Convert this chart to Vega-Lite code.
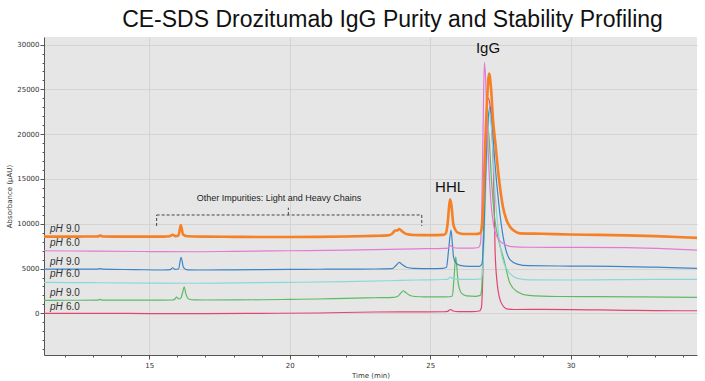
{
"$schema": "https://vega.github.io/schema/vega-lite/v6.json",
"width": 653, "height": 318,
"autosize": {"type": "none"},
"padding": {"left": 44, "top": 37, "right": 8, "bottom": 26},
"background": "white",
"view": {"fill": "#e6e6e6", "stroke": null},
"title": {"text": "CE-SDS Drozitumab IgG Purity and Stability Profiling", "fontSize": 23, "font": "Liberation Sans", "fontWeight": "normal", "color": "#111111", "anchor": "middle", "dx": 22, "dy": 21, "offset": 8, "baseline": "alphabetic"},
"config": {
  "axis": {"labelFont": "DejaVu Sans", "labelFontSize": 7, "labelColor": "#333333", "titleFont": "DejaVu Sans", "titleFontSize": 7, "titleFontWeight": "normal", "titleColor": "#333333", "domainColor": "#555555", "tickColor": "#555555", "gridColor": "#d4d4d4", "labelOverlap": false, "labelFlush": false}
},
"datasets": {
"traces": [
{"s":"r","t":11.25,"v":0},{"s":"r","t":13,"v":0},{"s":"r","t":15,"v":-20},{"s":"r","t":17,"v":-30},{"s":"r","t":19,"v":0},{"s":"r","t":21,"v":40},{"s":"r","t":23,"v":150},{"s":"r","t":24.5,"v":170},{"s":"r","t":25.5,"v":180},{"s":"r","t":25.62,"v":220},{"s":"r","t":25.72,"v":430},{"s":"r","t":25.82,"v":260},{"s":"r","t":26.0,"v":200},{"s":"r","t":26.5,"v":200},{"s":"r","t":26.75,"v":260},{"s":"r","t":26.82,"v":600},{"s":"r","t":26.88,"v":5000},{"s":"r","t":26.93,"v":14000},{"s":"r","t":27.0,"v":21500},{"s":"r","t":27.07,"v":24000},{"s":"r","t":27.14,"v":23000},{"s":"r","t":27.2,"v":20000},{"s":"r","t":27.25,"v":16500},{"s":"r","t":27.31,"v":7065},{"s":"r","t":27.38,"v":3500},{"s":"r","t":27.46,"v":1850},{"s":"r","t":27.58,"v":900},{"s":"r","t":27.72,"v":500},{"s":"r","t":28.0,"v":430},{"s":"r","t":29,"v":440},{"s":"r","t":30,"v":420},{"s":"r","t":31,"v":380},{"s":"r","t":32,"v":340},{"s":"r","t":33,"v":300},{"s":"r","t":34.5,"v":290},
{"s":"g","t":11.25,"v":1450},{"s":"g","t":12,"v":1460},{"s":"g","t":13.15,"v":1470},{"s":"g","t":13.25,"v":1550},{"s":"g","t":13.35,"v":1470},{"s":"g","t":14,"v":1470},{"s":"g","t":15,"v":1480},{"s":"g","t":15.8,"v":1490},{"s":"g","t":15.9,"v":1560},{"s":"g","t":15.97,"v":1800},{"s":"g","t":16.05,"v":1600},{"s":"g","t":16.12,"v":1700},{"s":"g","t":16.2,"v":2500},{"s":"g","t":16.24,"v":2970},{"s":"g","t":16.3,"v":2200},{"s":"g","t":16.4,"v":1600},{"s":"g","t":16.6,"v":1500},{"s":"g","t":17,"v":1490},{"s":"g","t":18,"v":1500},{"s":"g","t":19,"v":1520},{"s":"g","t":20,"v":1560},{"s":"g","t":21,"v":1600},{"s":"g","t":22,"v":1680},{"s":"g","t":23,"v":1740},{"s":"g","t":23.7,"v":1780},{"s":"g","t":23.85,"v":1900},{"s":"g","t":23.95,"v":2250},{"s":"g","t":24.04,"v":2520},{"s":"g","t":24.12,"v":2350},{"s":"g","t":24.25,"v":2050},{"s":"g","t":24.45,"v":1880},{"s":"g","t":24.8,"v":1830},{"s":"g","t":25.3,"v":1830},{"s":"g","t":25.7,"v":1850},{"s":"g","t":25.79,"v":1950},{"s":"g","t":25.85,"v":4000},{"s":"g","t":25.91,"v":6317},{"s":"g","t":25.96,"v":4700},{"s":"g","t":26.0,"v":3350},{"s":"g","t":26.12,"v":2230},{"s":"g","t":26.3,"v":1950},{"s":"g","t":26.6,"v":1900},{"s":"g","t":26.78,"v":2000},{"s":"g","t":26.83,"v":2600},{"s":"g","t":26.88,"v":7000},{"s":"g","t":26.95,"v":15000},{"s":"g","t":27.03,"v":20900},{"s":"g","t":27.1,"v":19500},{"s":"g","t":27.18,"v":15000},{"s":"g","t":27.3,"v":10500},{"s":"g","t":27.45,"v":8000},{"s":"g","t":27.64,"v":5800},{"s":"g","t":27.84,"v":3350},{"s":"g","t":28.1,"v":2400},{"s":"g","t":28.5,"v":2000},{"s":"g","t":29.5,"v":1880},{"s":"g","t":31,"v":1860},{"s":"g","t":32.5,"v":1830},{"s":"g","t":34.5,"v":1790},
{"s":"c","t":11.25,"v":3460},{"s":"c","t":13,"v":3420},{"s":"c","t":15,"v":3380},{"s":"c","t":16.5,"v":3360},{"s":"c","t":18,"v":3400},{"s":"c","t":20,"v":3460},{"s":"c","t":22,"v":3540},{"s":"c","t":23.5,"v":3640},{"s":"c","t":24.5,"v":3720},{"s":"c","t":25.5,"v":3780},{"s":"c","t":25.62,"v":3800},{"s":"c","t":25.72,"v":4050},{"s":"c","t":25.82,"v":3850},{"s":"c","t":26.0,"v":3800},{"s":"c","t":26.6,"v":3800},{"s":"c","t":26.8,"v":3850},{"s":"c","t":26.86,"v":4500},{"s":"c","t":26.93,"v":9000},{"s":"c","t":27.0,"v":16000},{"s":"c","t":27.07,"v":21000},{"s":"c","t":27.13,"v":22500},{"s":"c","t":27.2,"v":20000},{"s":"c","t":27.3,"v":14000},{"s":"c","t":27.45,"v":8500},{"s":"c","t":27.6,"v":5800},{"s":"c","t":27.84,"v":4465},{"s":"c","t":28.1,"v":3900},{"s":"c","t":28.5,"v":3740},{"s":"c","t":30,"v":3720},{"s":"c","t":31.5,"v":3760},{"s":"c","t":33,"v":3790},{"s":"c","t":34.5,"v":3790},
{"s":"b","t":11.25,"v":4945},{"s":"b","t":12.5,"v":4930},{"s":"b","t":13.15,"v":4930},{"s":"b","t":13.25,"v":4990},{"s":"b","t":13.35,"v":4930},{"s":"b","t":14.5,"v":4880},{"s":"b","t":15.5,"v":4840},{"s":"b","t":15.75,"v":4870},{"s":"b","t":15.83,"v":5090},{"s":"b","t":15.92,"v":4900},{"s":"b","t":16.04,"v":4950},{"s":"b","t":16.13,"v":6250},{"s":"b","t":16.22,"v":5100},{"s":"b","t":16.35,"v":4860},{"s":"b","t":17,"v":4840},{"s":"b","t":18,"v":4860},{"s":"b","t":19,"v":4880},{"s":"b","t":20,"v":4900},{"s":"b","t":21,"v":4920},{"s":"b","t":22,"v":4940},{"s":"b","t":23,"v":4950},{"s":"b","t":23.65,"v":4990},{"s":"b","t":23.8,"v":5400},{"s":"b","t":23.9,"v":5700},{"s":"b","t":24.0,"v":5450},{"s":"b","t":24.15,"v":5150},{"s":"b","t":24.4,"v":5020},{"s":"b","t":25,"v":5000},{"s":"b","t":25.45,"v":5030},{"s":"b","t":25.58,"v":5150},{"s":"b","t":25.66,"v":7200},{"s":"b","t":25.74,"v":9300},{"s":"b","t":25.79,"v":7800},{"s":"b","t":25.83,"v":6300},{"s":"b","t":25.92,"v":5600},{"s":"b","t":26.06,"v":5350},{"s":"b","t":26.4,"v":5250},{"s":"b","t":26.75,"v":5250},{"s":"b","t":26.84,"v":5500},{"s":"b","t":26.9,"v":8000},{"s":"b","t":26.97,"v":15000},{"s":"b","t":27.05,"v":21000},{"s":"b","t":27.13,"v":23058},{"s":"b","t":27.2,"v":21500},{"s":"b","t":27.3,"v":17000},{"s":"b","t":27.45,"v":12000},{"s":"b","t":27.6,"v":8500},{"s":"b","t":27.84,"v":6000},{"s":"b","t":28.1,"v":5500},{"s":"b","t":28.5,"v":5320},{"s":"b","t":30,"v":5280},{"s":"b","t":31.5,"v":5250},{"s":"b","t":33,"v":5150},{"s":"b","t":34.5,"v":5020},
{"s":"m","t":11.25,"v":6990},{"s":"m","t":13,"v":6940},{"s":"m","t":15,"v":6900},{"s":"m","t":16.5,"v":6875},{"s":"m","t":18,"v":6920},{"s":"m","t":20,"v":6990},{"s":"m","t":22,"v":7060},{"s":"m","t":23.5,"v":7140},{"s":"m","t":24.5,"v":7200},{"s":"m","t":25.5,"v":7250},{"s":"m","t":25.63,"v":7280},{"s":"m","t":25.72,"v":7550},{"s":"m","t":25.82,"v":7350},{"s":"m","t":26.0,"v":7270},{"s":"m","t":26.5,"v":7280},{"s":"m","t":26.72,"v":7350},{"s":"m","t":26.79,"v":7800},{"s":"m","t":26.84,"v":12000},{"s":"m","t":26.89,"v":22000},{"s":"m","t":26.93,"v":28010},{"s":"m","t":26.97,"v":26500},{"s":"m","t":27.02,"v":22000},{"s":"m","t":27.08,"v":17000},{"s":"m","t":27.16,"v":12500},{"s":"m","t":27.26,"v":9800},{"s":"m","t":27.4,"v":8400},{"s":"m","t":27.6,"v":7800},{"s":"m","t":27.9,"v":7450},{"s":"m","t":28.5,"v":7380},{"s":"m","t":30,"v":7370},{"s":"m","t":32,"v":7330},{"s":"m","t":33.5,"v":7200},{"s":"m","t":34.5,"v":7060},
{"s":"o","t":11.25,"v":8560},{"s":"o","t":12.5,"v":8570},{"s":"o","t":13.15,"v":8580},{"s":"o","t":13.25,"v":8680},{"s":"o","t":13.35,"v":8580},{"s":"o","t":14.5,"v":8560},{"s":"o","t":15.5,"v":8560},{"s":"o","t":15.72,"v":8600},{"s":"o","t":15.83,"v":8780},{"s":"o","t":15.93,"v":8620},{"s":"o","t":16.04,"v":8700},{"s":"o","t":16.12,"v":9850},{"s":"o","t":16.2,"v":8800},{"s":"o","t":16.35,"v":8600},{"s":"o","t":17,"v":8560},{"s":"o","t":18,"v":8540},{"s":"o","t":19,"v":8520},{"s":"o","t":20,"v":8520},{"s":"o","t":21,"v":8540},{"s":"o","t":22,"v":8580},{"s":"o","t":23,"v":8650},{"s":"o","t":23.5,"v":8700},{"s":"o","t":23.65,"v":8900},{"s":"o","t":23.75,"v":9250},{"s":"o","t":23.82,"v":9230},{"s":"o","t":23.9,"v":9400},{"s":"o","t":24.0,"v":9150},{"s":"o","t":24.15,"v":8850},{"s":"o","t":24.4,"v":8750},{"s":"o","t":25,"v":8730},{"s":"o","t":25.45,"v":8760},{"s":"o","t":25.55,"v":8900},{"s":"o","t":25.62,"v":10000},{"s":"o","t":25.67,"v":11800},{"s":"o","t":25.71,"v":12720},{"s":"o","t":25.76,"v":12000},{"s":"o","t":25.82,"v":10040},{"s":"o","t":25.9,"v":9300},{"s":"o","t":26.0,"v":8980},{"s":"o","t":26.2,"v":8850},{"s":"o","t":26.6,"v":8850},{"s":"o","t":26.78,"v":8950},{"s":"o","t":26.83,"v":9400},{"s":"o","t":26.9,"v":13000},{"s":"o","t":26.95,"v":18000},{"s":"o","t":27.03,"v":24000},{"s":"o","t":27.1,"v":26780},{"s":"o","t":27.17,"v":25000},{"s":"o","t":27.24,"v":21500},{"s":"o","t":27.31,"v":19350},{"s":"o","t":27.45,"v":15000},{"s":"o","t":27.59,"v":11900},{"s":"o","t":27.72,"v":10400},{"s":"o","t":27.84,"v":9670},{"s":"o","t":28.0,"v":9200},{"s":"o","t":28.2,"v":8930},{"s":"o","t":29,"v":8880},{"s":"o","t":30,"v":8800},{"s":"o","t":31,"v":8760},{"s":"o","t":32,"v":8700},{"s":"o","t":33,"v":8620},{"s":"o","t":34,"v":8500},{"s":"o","t":34.5,"v":8430}
],
"phlabels": [
{"t":11.46,"v":9450,"ph":"9.0"},{"t":11.46,"v":7887,"ph":"6.0"},{"t":11.46,"v":5766,"ph":"9.0"},{"t":11.46,"v":4360,"ph":"6.0"},{"t":11.46,"v":2239,"ph":"9.0"},{"t":11.46,"v":743,"ph":"6.0"}
],
"peaks": [
{"t":27.06,"v":29622,"txt":"IgG"},{"t":25.71,"v":14105,"txt":"HHL"}
],
"notes": [
{"t":19.62,"v":12844,"txt":"Other Impurities: Light and Heavy Chains"}
],
"bracket": [
{"t":15.26,"v":9752,"t2":15.26,"v2":10980},
{"t":15.26,"v":10980,"t2":24.7,"v2":10980},
{"t":24.7,"v":10980,"t2":24.7,"v2":9752},
{"t":19.95,"v":10980,"t2":19.95,"v2":11795}
]
},
"encoding": {
  "x": {"field": "t", "type": "quantitative", "title": "Time (min)",
        "scale": {"domain": [11.25, 34.5], "nice": false, "zero": false},
        "axis": {"values": [12,13,14,15,16,17,18,19,20,21,22,23,24,25,26,27,28,29,30,31,32,33,34],
                 "labelExpr": "datum.value % 5 === 0 ? datum.label : ''",
                 "labelOverlap": false, "labelFlush": false,
                 "tickSize": {"condition": {"test": "datum.value % 5 === 0", "value": 4}, "value": 2},
                 "gridOpacity": {"condition": {"test": "datum.value % 5 === 0", "value": 1}, "value": 0},
                 "labelPadding": 2, "titlePadding": 3}},
  "y": {"field": "v", "type": "quantitative", "title": "Absorbance (µAU)",
        "scale": {"domain": [-4650, 30850], "nice": false, "zero": false},
        "axis": {"values": [-4000,-3000,-2000,-1000,0,1000,2000,3000,4000,5000,6000,7000,8000,9000,10000,11000,12000,13000,14000,15000,16000,17000,18000,19000,20000,21000,22000,23000,24000,25000,26000,27000,28000,29000,30000],
                 "format": "d",
                 "labelExpr": "datum.value % 5000 === 0 ? datum.label : ''",
                 "labelOverlap": false, "labelFlush": false,
                 "tickSize": {"condition": {"test": "datum.value % 5000 === 0", "value": 4}, "value": 2},
                 "gridOpacity": {"condition": {"test": "datum.value % 5000 === 0", "value": 1}, "value": 0},
                 "labelPadding": 1, "titlePadding": 4}}
},
"layer": [
{
 "data": {"name": "traces"},
 "transform": [{"filter": "datum.s !== 'o'"}],
 "mark": {"type": "line", "interpolate": "monotone", "strokeWidth": 1.2, "clip": true},
 "encoding": {
  "color": {"field": "s", "type": "nominal", "legend": null,
            "scale": {"domain": ["r","g","c","b","m","o"], "range": ["#e2466f","#5dbb63","#8ad8d8","#3d85c6","#e27ad6","#f58025"]}}
 }
},
{
 "data": {"name": "traces"},
 "transform": [{"filter": "datum.s === 'o'"}],
 "mark": {"type": "line", "interpolate": "monotone", "strokeWidth": 2.6, "color": "#f58025", "clip": true},
 "encoding": {}
},
{
 "data": {"name": "bracket"},
 "mark": {"type": "rule", "color": "#444444", "strokeWidth": 1, "strokeDash": [3, 2]},
 "encoding": {
  "x2": {"field": "t2"},
  "y2": {"field": "v2"}
 }
},
{
 "data": {"name": "notes"},
 "mark": {"type": "text", "font": "Liberation Sans", "fontSize": 9, "color": "#222222", "baseline": "middle", "align": "center"},
 "encoding": {"text": {"field": "txt"}}
},
{
 "data": {"name": "peaks"},
 "mark": {"type": "text", "font": "Liberation Sans", "fontSize": 15, "color": "#111111", "baseline": "middle", "align": "center"},
 "encoding": {"text": {"field": "txt"}}
},
{
 "data": {"name": "phlabels"},
 "mark": {"type": "text", "font": "Liberation Sans", "fontSize": 10, "fontStyle": "italic", "color": "#333333", "baseline": "middle", "align": "left"},
 "encoding": {"text": {"value": "pH"}}
},
{
 "data": {"name": "phlabels"},
 "mark": {"type": "text", "font": "Liberation Sans", "fontSize": 10, "color": "#333333", "baseline": "middle", "align": "left", "dx": 16},
 "encoding": {"text": {"field": "ph"}}
}
]
}
